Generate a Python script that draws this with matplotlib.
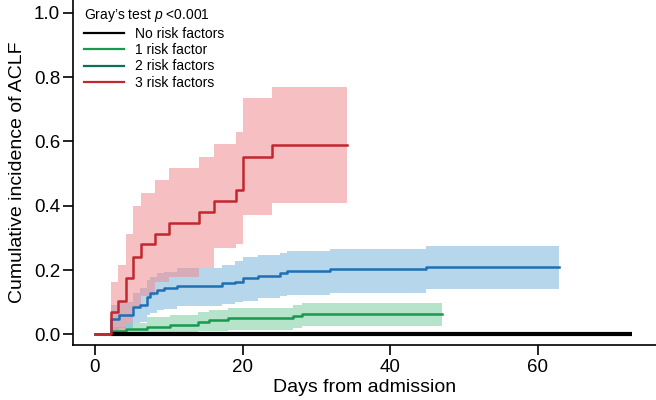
import matplotlib
matplotlib.use("Agg")
import matplotlib.pyplot as plt
from matplotlib.lines import Line2D

plt.rcParams['font.family'] = ['Liberation Sans', 'DejaVu Sans']
plt.rcParams['mathtext.fontset'] = 'custom'
plt.rcParams['mathtext.it'] = 'Liberation Sans:italic'
plt.rcParams['mathtext.rm'] = 'Liberation Sans'

# ---- data ----
red_t = [0, 2.2, 3.2, 4.2, 5.2, 6.2, 8.2, 10.1, 14.1, 16.1, 19.1, 20.1, 24.0, 34.1]
red_y = [0, 0.071, 0.105, 0.175, 0.242, 0.28, 0.313, 0.346, 0.381, 0.415, 0.449, 0.553, 0.588, 0.588]
red_hi = [0.162, 0.216, 0.312, 0.40, 0.439, 0.48, 0.517, 0.553, 0.593, 0.631, 0.735, 0.769, 0.769]
red_lo = [0.0, 0.005, 0.035, 0.081, 0.118, 0.164, 0.178, 0.206, 0.268, 0.28, 0.372, 0.41, 0.41]

blue_t = [0, 2.2, 3.3, 5.2, 6.1, 7.0, 7.5, 8.4, 9.3, 11.1, 17.2, 19.0, 20.1, 22.1, 25.1, 26.0, 31.8, 44.8, 62.9]
blue_y = [0, 0.047, 0.06, 0.085, 0.09, 0.117, 0.128, 0.138, 0.143, 0.151, 0.159, 0.164, 0.175, 0.182, 0.19, 0.196, 0.203, 0.209, 0.209]
blue_hi = [0.09, 0.10, 0.13, 0.145, 0.17, 0.18, 0.19, 0.195, 0.205, 0.215, 0.227, 0.242, 0.248, 0.253, 0.258, 0.265, 0.275, 0.275]
blue_lo = [0.01, 0.02, 0.035, 0.04, 0.06, 0.065, 0.075, 0.08, 0.088, 0.095, 0.1, 0.105, 0.113, 0.118, 0.122, 0.128, 0.14, 0.14]

green_t = [0, 2.2, 4.2, 7.0, 10.2, 14.0, 15.4, 18.1, 26.9, 28.0, 47.0]
green_y = [0, 0.012, 0.018, 0.024, 0.029, 0.038, 0.045, 0.05, 0.057, 0.063, 0.063]
green_hi = [0.022, 0.034, 0.053, 0.06, 0.07, 0.075, 0.082, 0.092, 0.099, 0.099]
green_lo = [0.0, 0.0, 0.002, 0.005, 0.01, 0.012, 0.015, 0.02, 0.025, 0.025]

black_t = [2.2, 72.8]
black_y = [0, 0]

legend_labels = ["No risk factors", "1 risk factor", "2 risk factors", "3 risk factors"]
legend_title = "Gray\u2019s test $p$ <0.001"
x_ticks = [0, 20, 40, 60]
y_ticks = [0.0, 0.2, 0.4, 0.6, 0.8, 1.0]

# ---- colours ----
c_red, c_red_band = "#C1272D", "#F08C90"
c_blue, c_blue_band = "#1F6FB4", "#6FAEDB"
c_green, c_green_band = "#17994F", "#6CCB98"
c_green2 = "#0E6E58"

fig = plt.figure(figsize=(6.56, 4.0), dpi=100)
ax = fig.add_axes([72.7 / 656, 55 / 400, 1 - 72.7 / 656, 345 / 400])

ax.fill_between(green_t[1:], green_lo, green_hi, step='post', color=c_green_band, alpha=0.5, lw=0)
ax.fill_between(blue_t[1:], blue_lo, blue_hi, step='post', color=c_blue_band, alpha=0.5, lw=0)
ax.fill_between(red_t[1:], red_lo, red_hi, step='post', color=c_red_band, alpha=0.55, lw=0)

ax.step(green_t, green_y, where='post', color=c_green, lw=1.8)
ax.step(blue_t, blue_y, where='post', color=c_blue, lw=1.8)
ax.plot(black_t, black_y, color='black', lw=3.0, solid_capstyle='butt')
ax.step(red_t, red_y, where='post', color=c_red, lw=1.8)

ax.set_xlim(-3.0, 76.0)
ax.set_ylim(-0.033, 1.04)
ax.set_xticks(x_ticks)
ax.set_yticks(y_ticks)
ax.set_yticklabels([f"{v:.1f}" for v in y_ticks])
ax.spines['top'].set_visible(False)
ax.spines['right'].set_visible(False)
for s in ('left', 'bottom'):
    ax.spines[s].set_linewidth(1.2)
ax.tick_params(axis='both', direction='out', length=7, width=1.2, labelsize=13.5, colors='black')
ax.tick_params(axis='y', pad=2)
ax.tick_params(axis='x', pad=3)
ax.set_xlabel("Days from admission", fontsize=14, labelpad=2)
ax.set_ylabel("Cumulative incidence of ACLF", fontsize=14, labelpad=6)

handles = [Line2D([], [], color=c, lw=1.6) for c in ['black', c_green, c_green2, c_red]]
leg = ax.legend(handles, legend_labels, title=legend_title, loc='upper left',
                bbox_to_anchor=(84 / 656, 1 - 7 / 400), bbox_transform=fig.transFigure,
                frameon=False, fontsize=10, title_fontsize=10, handlelength=2.9,
                handletextpad=0.8, labelspacing=0.18, borderpad=0, borderaxespad=0,
                alignment='left')

fig.savefig("out.png", dpi=100)
